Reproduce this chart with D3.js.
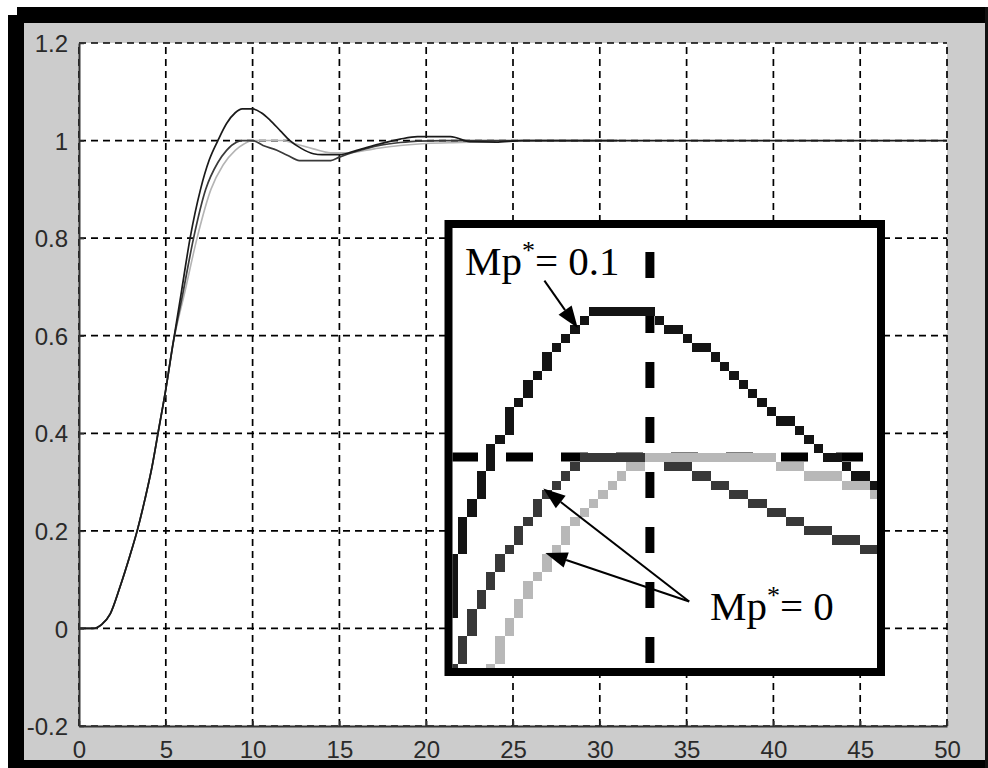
<!DOCTYPE html>
<html>
<head>
<meta charset="utf-8">
<script src="https://cdn.jsdelivr.net/npm/d3@7/dist/d3.min.js"></script>
<style>
  body { margin: 0; background: #fff; }
  svg { display: block; }
</style>
</head>
<body>
<div id="graph"></div>
<script>
// ---- main plot: step responses ----
var xTicks = [ 0, 5, 10, 15, 20, 25, 30, 35, 40, 45, 50 ];
var yTicks = [ -0.2, 0, 0.2, 0.4, 0.6, 0.8, 1, 1.2 ];
var yTickLabels = [ "-0.2", "0", "0.2", "0.4", "0.6", "0.8", "1", "1.2" ];

// Mp* = 0.1 (overshoot)
var tMp01 = [ 0, 0.8, 1.3, 1.8, 2.36, 2.94, 3.35, 3.8, 4.2, 4.6, 5.0, 5.4, 5.9, 6.4, 7.0, 7.5, 8.0, 8.5, 9.0, 9.4, 10.0, 10.5, 11.0, 11.6, 12.15, 12.8, 13.5, 14.0, 15.0, 16.0, 17.3, 18.5, 19.5, 21.4, 22.5, 24.0, 25.5, 50 ];
var yMp01 = [ 0, 0, 0.008, 0.03, 0.085, 0.15, 0.2, 0.265, 0.33, 0.41, 0.49, 0.58, 0.69, 0.8, 0.9, 0.96, 1.0, 1.035, 1.057, 1.065, 1.065, 1.057, 1.042, 1.02, 1.0, 0.984, 0.973, 0.971, 0.971, 0.98, 0.993, 1.003, 1.008, 1.008, 0.998, 0.997, 1.0, 1.0 ];

// Mp* = 0, first design (dark grey)
var tMp0a = [ 0, 0.8, 1.3, 1.8, 2.36, 2.94, 3.35, 3.8, 4.2, 4.6, 5.0, 5.4, 6.0, 6.6, 7.3, 8.0, 8.5, 9.1, 9.4, 10.0, 10.6, 11.4, 12.0, 12.7, 14.5, 15.0, 16.0, 17.3, 18.5, 19.5, 21.0, 31.0 ];
var yMp0a = [ 0, 0, 0.008, 0.03, 0.085, 0.15, 0.2, 0.265, 0.33, 0.41, 0.49, 0.58, 0.69, 0.8, 0.9, 0.955, 0.98, 0.997, 1.0, 1.0, 0.99, 0.98, 0.97, 0.959, 0.959, 0.966, 0.978, 0.99, 0.996, 0.999, 1.0, 1.0 ];

// Mp* = 0, second design (light grey)
var tMp0b = [ 0, 0.8, 1.3, 1.8, 2.36, 2.94, 3.35, 3.8, 4.2, 4.6, 5.0, 5.4, 6.1, 6.8, 7.6, 8.3, 9.0, 9.5, 10.0, 11.7, 12.5, 13.5, 14.5, 15.5, 17.0, 18.5, 20.0, 22.0, 24.0 ];
var yMp0b = [ 0, 0, 0.008, 0.03, 0.085, 0.15, 0.2, 0.265, 0.33, 0.41, 0.49, 0.58, 0.69, 0.8, 0.9, 0.95, 0.98, 0.993, 1.0, 1.0, 0.993, 0.983, 0.975, 0.975, 0.983, 0.99, 0.994, 0.996, 0.998 ];

// ---- zoomed inset around the first peak ----
var zoomGuideT = 10, zoomGuideY = 1;

var tZoomMp01 = [ 8.10, 8.15, 8.23, 8.32, 8.41, 8.50, 8.59, 8.68, 8.77, 8.86, 8.95, 9.04, 9.21, 9.39, 9.43, 10.05, 10.10, 10.36, 10.62, 10.89, 11.07, 11.34, 11.60, 11.87, 12.16 ];
var yZoomMp01 = [ 0.925, 0.946, 0.968, 0.980, 0.990, 1.003, 1.010, 1.018, 1.027, 1.033, 1.039, 1.045, 1.053, 1.061, 1.065, 1.065, 1.061, 1.053, 1.045, 1.033, 1.024, 1.016, 1.004, 0.996, 0.987 ];

var tZoomMp0a = [ 8.13, 8.23, 8.32, 8.41, 8.50, 8.59, 8.68, 8.77, 8.86, 8.95, 9.04, 9.13, 9.21, 9.31, 9.39, 10.05, 10.27, 10.49, 10.67, 10.84, 11.02, 11.20, 11.38, 11.60, 11.87, 12.16 ];
var yZoomMp0a = [ 0.900, 0.919, 0.929, 0.937, 0.945, 0.954, 0.962, 0.967, 0.973, 0.980, 0.984, 0.988, 0.992, 0.996, 1.000, 1.000, 0.996, 0.992, 0.988, 0.984, 0.980, 0.976, 0.972, 0.968, 0.963, 0.959 ];

var tZoomMp0b = [ 8.47, 8.59, 8.68, 8.77, 8.86, 8.95, 9.04, 9.13, 9.21, 9.31, 9.39, 9.48, 9.57, 9.65, 9.79, 9.97, 10.05, 11.11, 11.29, 11.65, 11.96, 12.16 ];
var yZoomMp0b = [ 0.900, 0.919, 0.929, 0.935, 0.942, 0.950, 0.955, 0.962, 0.968, 0.972, 0.976, 0.980, 0.984, 0.988, 0.992, 0.996, 1.000, 1.000, 0.996, 0.992, 0.988, 0.984 ];

// annotation anchors in inset units: [ tail t, tail y, tip t, tip y ]
var arrowMp01 = [ [ 9.006, 1.078, 9.32, 1.057 ] ];
var arrowMp0 = [ [ 10.37, 0.936, 8.996, 0.986 ], [ 10.37, 0.936, 9.015, 0.9575 ] ];

var W = 988, H = 768;
var plot = { left: 79, right: 947, top: 43, bottom: 726 };
var inset = { left: 452.5, right: 877, top: 228, bottom: 668 };

var svg = d3.select( "#graph" ).append( "svg" )
    .attr( "width", W )
    .attr( "height", H );

svg.append( "rect" ).attr( "width", W ).attr( "height", H ).attr( "fill", "#fff" );

// window frame (grey figure with heavy black border)
svg.append( "rect" ).attr( "x", 24 ).attr( "y", 23 ).attr( "width", 961 ).attr( "height", 737 ).attr( "fill", "#cccccc" );
svg.append( "rect" ).attr( "x", 17 ).attr( "y", 7 ).attr( "width", 971 ).attr( "height", 16 ).attr( "fill", "#000" );
svg.append( "rect" ).attr( "x", 8 ).attr( "y", 15 ).attr( "width", 16 ).attr( "height", 753 ).attr( "fill", "#000" );
svg.append( "rect" ).attr( "x", 8 ).attr( "y", 760 ).attr( "width", 980 ).attr( "height", 8 ).attr( "fill", "#000" );
svg.append( "rect" ).attr( "x", 985 ).attr( "y", 7 ).attr( "width", 3 ).attr( "height", 761 ).attr( "fill", "#111" );

// plot area
svg.append( "rect" )
    .attr( "x", plot.left ).attr( "y", plot.top )
    .attr( "width", plot.right - plot.left ).attr( "height", plot.bottom - plot.top )
    .attr( "fill", "#fff" );

var x = d3.scaleLinear().domain( [ 0, 50 ] ).range( [ plot.left, plot.right ] ),
    y = d3.scaleLinear().domain( [ -0.2, 1.2 ] ).range( [ plot.bottom, plot.top ] );

// dashed grid
var grid = svg.append( "g" )
    .attr( "stroke", "#000" )
    .attr( "stroke-width", 1.7 )
    .attr( "stroke-dasharray", "7,5" );

grid.selectAll( "line.v" ).data( xTicks ).enter().append( "line" )
    .attr( "x1", function( d ){ return x( d ); } )
    .attr( "x2", function( d ){ return x( d ); } )
    .attr( "y1", plot.bottom ).attr( "y2", plot.top );

grid.selectAll( "line.h" ).data( yTicks ).enter().append( "line" )
    .attr( "y1", function( d ){ return y( d ); } )
    .attr( "y2", function( d ){ return y( d ); } )
    .attr( "x1", plot.left ).attr( "x2", plot.right );

// curves
function zip( ts, vs ){
  return ts.map( function( t, i ){ return { t: t, v: vs[ i ] }; } );
}

var mainLine = d3.line()
    .x( function( d ){ return x( d.t ); } )
    .y( function( d ){ return y( d.v ); } )
    .curve( d3.curveMonotoneX );

var series = [
  { data: zip( tMp0b, yMp0b ), color: "#b4b4b4", width: 1.6 },
  { data: zip( tMp0a, yMp0a ), color: "#3a3a3a", width: 1.7 },
  { data: zip( tMp01, yMp01 ), color: "#1a1a1a", width: 1.7 }
];

series.forEach( function( s ){
  svg.append( "path" )
     .datum( s.data )
     .attr( "fill", "none" )
     .attr( "stroke", s.color )
     .attr( "stroke-width", s.width )
     .attr( "d", mainLine );
} );

// axes (inward ticks, left and bottom only)
var axisFont = "'Liberation Sans', Arial, sans-serif";

var gy = svg.append( "g" )
    .attr( "transform", "translate( " + plot.left + ", 0 )" )
    .call( d3.axisLeft( y ).tickValues( yTicks )
        .tickFormat( function( d, i ){ return yTickLabels[ i ]; } )
        .tickSize( -5 ).tickSizeOuter( 0 ).tickPadding( 11 ) );

var gx = svg.append( "g" )
    .attr( "transform", "translate( 0, " + plot.bottom + " )" )
    .call( d3.axisBottom( x ).tickValues( xTicks )
        .tickSize( -5 ).tickSizeOuter( 0 ).tickPadding( 15 ) );

[ gx, gy ].forEach( function( g ){
  g.select( ".domain" ).attr( "stroke", "#333" ).attr( "stroke-width", 2 );
  g.selectAll( ".tick line" ).attr( "stroke", "#333" ).attr( "stroke-width", 1.5 );
  g.selectAll( ".tick text" )
   .attr( "fill", "#2a2a2a" )
   .style( "font-family", axisFont )
   .style( "font-size", "24px" );
} );
gy.selectAll( ".tick text" ).attr( "dy", "0.36em" );

// ---- inset ----
svg.append( "rect" )
    .attr( "x", 448.5 ).attr( "y", 224 )
    .attr( "width", 432.5 ).attr( "height", 448 )
    .attr( "fill", "#fff" );

svg.append( "clipPath" ).attr( "id", "zoomclip" )
  .append( "rect" )
    .attr( "x", inset.left ).attr( "y", inset.top )
    .attr( "width", inset.right - inset.left ).attr( "height", inset.bottom - inset.top );

var zx = d3.scaleLinear().domain( [ 8.14, 12.14 ] ).range( [ inset.left, inset.right ] ),
    zy = d3.scaleLinear().domain( [ 0.9066, 1.1013 ] ).range( [ inset.bottom, inset.top ] );

var zoomG = svg.append( "g" ).attr( "clip-path", "url(#zoomclip)" );

// guide lines through the peak time and the final value
zoomG.append( "line" )
    .attr( "x1", zx( zoomGuideT ) ).attr( "x2", zx( zoomGuideT ) )
    .attr( "y1", 252 ).attr( "y2", inset.bottom )
    .attr( "stroke", "#000" ).attr( "stroke-width", 9 )
    .attr( "stroke-dasharray", "26,29" );

zoomG.append( "line" )
    .attr( "x1", 451 ).attr( "x2", inset.right )
    .attr( "y1", zy( zoomGuideY ) ).attr( "y2", zy( zoomGuideY ) )
    .attr( "stroke", "#000" ).attr( "stroke-width", 9 )
    .attr( "stroke-dasharray", "27,28" );

// magnified curves are drawn as big screen pixels
var cellW = 9.36, cellH = 9.15, cellX0 = 448.6, cellY0 = 224.3;

var zoomLine = d3.line()
    .x( function( d ){ return zx( d.t ); } )
    .y( function( d ){ return zy( d.v ); } );

function pixelate( data, color ){
  var tmp = svg.append( "path" ).attr( "d", zoomLine( data ) ).attr( "fill", "none" );
  var node = tmp.node(), len = node.getTotalLength(), seen = {}, cells = [];
  for( var s = 0; s <= len; s += 0.5 ){
    var p = node.getPointAtLength( s );
    var ix = Math.floor( ( p.x - cellX0 ) / cellW ),
        iy = Math.floor( ( p.y - cellY0 ) / cellH ),
        key = ix + "_" + iy;
    if( !seen[ key ] ){
      seen[ key ] = true;
      cells.push( [ ix, iy ] );
      // drop corner cells so the staircase stays one pixel wide
      var n = cells.length;
      if( n >= 3 && Math.abs( cells[ n - 1 ][ 0 ] - cells[ n - 3 ][ 0 ] ) <= 1 &&
                    Math.abs( cells[ n - 1 ][ 1 ] - cells[ n - 3 ][ 1 ] ) <= 1 ){
        cells.splice( n - 2, 1 );
      }
    }
  }
  tmp.remove();
  zoomG.append( "g" )
      .attr( "shape-rendering", "crispEdges" )
    .selectAll( "rect" ).data( cells ).enter().append( "rect" )
      .attr( "x", function( c ){ return Math.round( cellX0 + c[ 0 ] * cellW ); } )
      .attr( "y", function( c ){ return Math.round( cellY0 + c[ 1 ] * cellH ); } )
      .attr( "width", function( c ){ return Math.round( cellX0 + ( c[ 0 ] + 1 ) * cellW ) - Math.round( cellX0 + c[ 0 ] * cellW ); } )
      .attr( "height", function( c ){ return Math.round( cellY0 + ( c[ 1 ] + 1 ) * cellH ) - Math.round( cellY0 + c[ 1 ] * cellH ); } )
      .attr( "fill", color );
}

pixelate( zip( tZoomMp01, yZoomMp01 ), "#141414" );
pixelate( zip( tZoomMp0a, yZoomMp0a ), "#383838" );
pixelate( zip( tZoomMp0b, yZoomMp0b ), "#b8b8b8" );

// inset border
svg.append( "rect" )
    .attr( "x", 448.5 ).attr( "y", 224 )
    .attr( "width", 432.5 ).attr( "height", 448 )
    .attr( "fill", "none" )
    .attr( "stroke", "#000" ).attr( "stroke-width", 8 );

// annotations
function drawArrow( a ){
  var x1 = zx( a[ 0 ] ), y1 = zy( a[ 1 ] ), x2 = zx( a[ 2 ] ), y2 = zy( a[ 3 ] );
  var dx = x2 - x1, dy = y2 - y1, L = Math.sqrt( dx * dx + dy * dy ),
      ux = dx / L, uy = dy / L, head = 22, half = 8;
  var bx = x2 - ux * head, by = y2 - uy * head;
  svg.append( "line" )
     .attr( "x1", x1 ).attr( "y1", y1 ).attr( "x2", bx ).attr( "y2", by )
     .attr( "stroke", "#000" ).attr( "stroke-width", 2 );
  svg.append( "path" )
     .attr( "d", "M" + x2 + "," + y2 +
                 "L" + ( bx - uy * half ) + "," + ( by + ux * half ) +
                 "L" + ( bx + uy * half ) + "," + ( by - ux * half ) + "Z" )
     .attr( "fill", "#000" );
}
arrowMp01.forEach( drawArrow );
arrowMp0.forEach( drawArrow );

var serif = "'Liberation Serif', 'Times New Roman', serif";

function mpLabel( xPos, yPos, value ){
  var t = svg.append( "text" )
      .attr( "x", xPos ).attr( "y", yPos )
      .style( "font-family", serif )
      .style( "font-size", "41px" )
      .attr( "fill", "#000" );
  t.append( "tspan" ).text( "Mp" );
  t.append( "tspan" ).attr( "dy", -16 ).style( "font-size", "26px" ).text( "*" );
  t.append( "tspan" ).attr( "dy", 16 ).text( "= " + value );
}
mpLabel( 465, 275, "0.1" );
mpLabel( 710, 620, "0" );
</script>
</body>
</html>
